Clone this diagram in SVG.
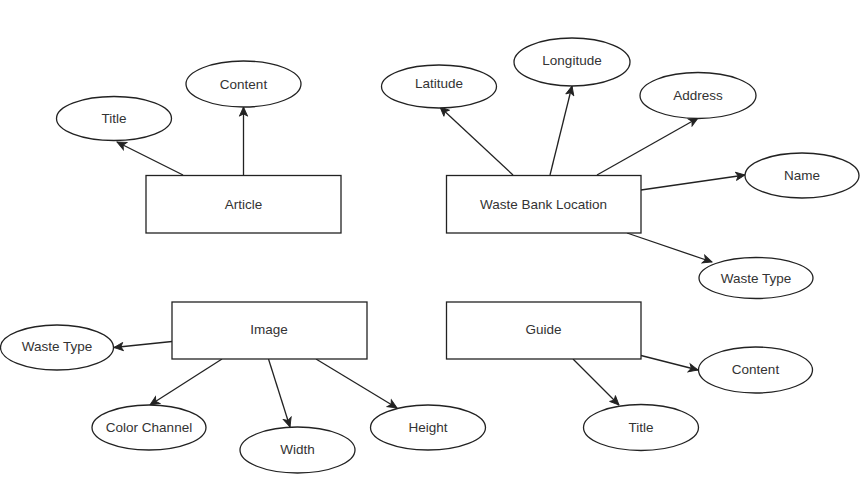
<svg xmlns="http://www.w3.org/2000/svg" width="860" height="479" viewBox="0 0 860 479">
<style>
  .ent rect { fill: #ffffff; stroke: #222222; stroke-width: 1.3; }
  .att ellipse { fill: #ffffff; stroke: #222222; stroke-width: 1.3; }
  text { font-family: "Liberation Sans", Arial, sans-serif; font-size: 13.5px; fill: #333333; text-anchor: middle; dominant-baseline: central; }
  .conn line { stroke: #222222; stroke-width: 1.3; fill: none; marker-end: url(#arr); }
</style>
<defs>
  <marker id="arr" viewBox="0 0 12 12" refX="11" refY="6" markerWidth="11" markerHeight="11" markerUnits="userSpaceOnUse" orient="auto">
    <path d="M1,1.5 L11,6 L1,10.5 L3.5,6 Z" fill="#222222" stroke="#222222" stroke-width="1"/>
  </marker>
</defs>
<rect x="0" y="0" width="860" height="479" fill="#ffffff"/>

<g id="connectors" class="conn">
  <line x1="183" y1="175" x2="117" y2="142"/>
  <line x1="243.5" y1="175" x2="243.5" y2="107"/>
  <line x1="513" y1="175" x2="440" y2="107"/>
  <line x1="550" y1="175" x2="572" y2="86"/>
  <line x1="597" y1="175" x2="698" y2="118"/>
  <line x1="641" y1="190" x2="745" y2="175"/>
  <line x1="627" y1="233" x2="712" y2="262"/>
  <line x1="172" y1="341.5" x2="114" y2="347.5"/>
  <line x1="222" y1="359" x2="150" y2="405"/>
  <line x1="268.5" y1="359" x2="290" y2="427"/>
  <line x1="316" y1="359" x2="397" y2="408"/>
  <line x1="641" y1="355.5" x2="698" y2="370"/>
  <line x1="573" y1="359" x2="619" y2="405"/>
</g>

<g id="article" class="ent"><rect x="146" y="175.5" width="195" height="57.5"/><text x="243.5" y="204">Article</text></g>
<g id="article-title" class="att"><ellipse cx="114" cy="118.5" rx="57.5" ry="22"/><text x="114" y="118.5">Title</text></g>
<g id="article-content" class="att"><ellipse cx="243.5" cy="84" rx="57.5" ry="23"/><text x="243.5" y="84">Content</text></g>

<g id="waste-bank-location" class="ent"><rect x="446.5" y="175.5" width="194.5" height="57.5"/><text x="543.5" y="204">Waste Bank Location</text></g>
<g id="wbl-latitude" class="att"><ellipse cx="439" cy="86.5" rx="57.5" ry="21.5"/><text x="439" y="83">Latitude</text></g>
<g id="wbl-longitude" class="att"><ellipse cx="572" cy="62" rx="58" ry="24"/><text x="572" y="60">Longitude</text></g>
<g id="wbl-address" class="att"><ellipse cx="698" cy="95.5" rx="58" ry="23"/><text x="698" y="95">Address</text></g>
<g id="wbl-name" class="att"><ellipse cx="802" cy="175.5" rx="57" ry="22.5"/><text x="802" y="175">Name</text></g>
<g id="wbl-waste-type" class="att"><ellipse cx="756" cy="278" rx="57" ry="20.5"/><text x="756" y="278">Waste Type</text></g>

<g id="image" class="ent"><rect x="172" y="302" width="195" height="57"/><text x="269" y="329">Image</text></g>
<g id="image-waste-type" class="att"><ellipse cx="57" cy="347.5" rx="56.5" ry="22.5"/><text x="57" y="346.5">Waste Type</text></g>
<g id="image-color-channel" class="att"><ellipse cx="149" cy="427.5" rx="57" ry="22.5"/><text x="149" y="427">Color Channel</text></g>
<g id="image-width" class="att"><ellipse cx="297.5" cy="450" rx="57.5" ry="23"/><text x="297.5" y="449.5">Width</text></g>
<g id="image-height" class="att"><ellipse cx="428" cy="427.5" rx="57.5" ry="22.5"/><text x="428" y="427">Height</text></g>

<g id="guide" class="ent"><rect x="446.5" y="302" width="194.5" height="57"/><text x="543.5" y="329">Guide</text></g>
<g id="guide-content" class="att"><ellipse cx="755.5" cy="370" rx="57" ry="23"/><text x="755.5" y="369.5">Content</text></g>
<g id="guide-title" class="att"><ellipse cx="641" cy="427.5" rx="57.5" ry="23"/><text x="641" y="427">Title</text></g>
</svg>
